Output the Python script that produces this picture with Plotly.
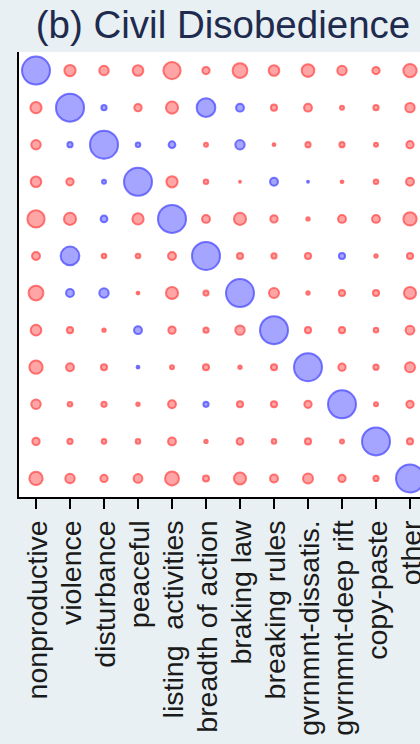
import plotly.graph_objects as go

title_text = "(b) Civil Disobedience"
labels = ["nonproductive", "violence", "disturbance", "peaceful", "listing  activities",
          "breadth of action", "braking law", "breaking rules", "gvrnmnt-dissatis.",
          "gvrnmnt-deep rift", "copy-paste", "other"]

# signed association values (row = y category, top to bottom; col = x category)
row_nonproductive = [1.00, -0.44, -0.38, -0.42, -0.64, -0.31, -0.56, -0.42, -0.49, -0.38, -0.31, -0.51]
row_violence      = [-0.44, 1.00, 0.24, -0.31, -0.47, 0.69, 0.33, -0.27, -0.33, -0.20, -0.24, -0.38]
row_disturbance   = [-0.38, 0.24, 1.00, 0.22, 0.29, -0.20, 0.38, -0.16, -0.24, -0.24, -0.20, -0.31]
row_peaceful      = [-0.42, -0.31, 0.20, 1.00, -0.44, -0.22, -0.13, 0.33, 0.13, -0.16, -0.22, -0.33]
row_listing       = [-0.64, -0.47, 0.29, -0.44, 1.00, -0.33, -0.47, -0.31, -0.18, -0.33, -0.33, -0.51]
row_breadth       = [-0.33, 0.69, -0.22, -0.22, -0.33, 1.00, -0.27, -0.24, -0.27, 0.27, -0.18, -0.27]
row_braking_law   = [-0.56, 0.33, 0.38, -0.16, -0.47, -0.24, 1.00, -0.40, -0.18, -0.27, -0.27, -0.47]
row_breaking_rules= [-0.42, -0.27, -0.18, 0.33, -0.31, -0.24, -0.38, 1.00, -0.27, -0.27, -0.22, -0.36]
row_dissatis      = [-0.51, -0.33, -0.27, 0.16, -0.20, -0.27, -0.18, -0.27, 1.00, -0.31, -0.24, -0.40]
row_deep_rift     = [-0.38, -0.22, -0.24, -0.18, -0.33, 0.24, -0.27, -0.27, -0.31, 1.00, -0.20, -0.31]
row_copy_paste    = [-0.31, -0.24, -0.22, -0.22, -0.33, -0.18, -0.29, -0.22, -0.27, -0.20, 1.00, -0.27]
row_other         = [-0.51, -0.38, -0.31, -0.36, -0.53, -0.27, -0.47, -0.33, -0.40, -0.31, -0.24, 1.00]

matrix = [row_nonproductive, row_violence, row_disturbance, row_peaceful, row_listing,
          row_breadth, row_braking_law, row_breaking_rules, row_dissatis, row_deep_rift,
          row_copy_paste, row_other]

pos = {"x": [], "y": [], "s": []}
neg = {"x": [], "y": [], "s": []}
for i, row in enumerate(matrix):
    for j, v in enumerate(row):
        d = pos if v > 0 else neg
        d["x"].append(j)
        d["y"].append(i)
        d["s"].append(max(abs(v) * 30 - 2, 1.5))

fig = go.Figure()
fig.add_trace(go.Scatter(x=neg["x"], y=neg["y"], mode="markers",
                         marker=dict(size=neg["s"], sizemode="diameter",
                                     color="rgba(255,0,0,0.5)",
                                     line=dict(color="rgba(255,0,0,0.75)", width=2)),
                         hoverinfo="skip", showlegend=False))
fig.add_trace(go.Scatter(x=pos["x"], y=pos["y"], mode="markers",
                         marker=dict(size=pos["s"], sizemode="diameter",
                                     color="rgba(0,0,255,0.5)",
                                     line=dict(color="rgba(0,0,255,0.75)", width=2)),
                         hoverinfo="skip", showlegend=False))

fig.update_layout(
    width=420, height=744,
    margin=dict(l=19, r=0, t=52, b=247, pad=0, autoexpand=False),
    paper_bgcolor="#e8f0f3",
    plot_bgcolor="#ffffff",
    font=dict(family="Liberation Sans, Arial, sans-serif", color="#1a1a1a"),
    title=dict(text=title_text, x=223/420, xref="container", xanchor="center",
               y=1 - 25/744, yref="container", yanchor="middle",
               font=dict(size=38.5, color="#1f2b4e", family="Liberation Sans, Arial, sans-serif")),
    xaxis=dict(range=[-0.5, 11.5 - 7/34], tickmode="array", tickvals=list(range(12)),
               ticktext=labels, tickangle=-90, tickfont=dict(size=28.5, color="#1a1a1a"),
               ticklabelshift=2, ticklabeloverflow="allow", automargin=False,
               showgrid=False, zeroline=False, showline=True, linecolor="black", linewidth=2,
               ticks="outside", ticklen=10, tickwidth=2, tickcolor="black", fixedrange=True),
    yaxis=dict(range=[11.5, -0.5], showticklabels=False, showgrid=False, zeroline=False,
               automargin=False,
               showline=True, linecolor="black", linewidth=2, ticks="", fixedrange=True),
)

fig.write_html(
    "out.html", config={"displayModeBar": False},
    post_script=("document.documentElement.style.overflow='hidden';"
                 "document.body.style.margin='0';document.body.style.overflow='hidden';"
                 "document.body.style.background='#e8f0f3';"
                 "var g=document.getElementById('{plot_id}');"
                 "g.style.overflow='hidden';"))
